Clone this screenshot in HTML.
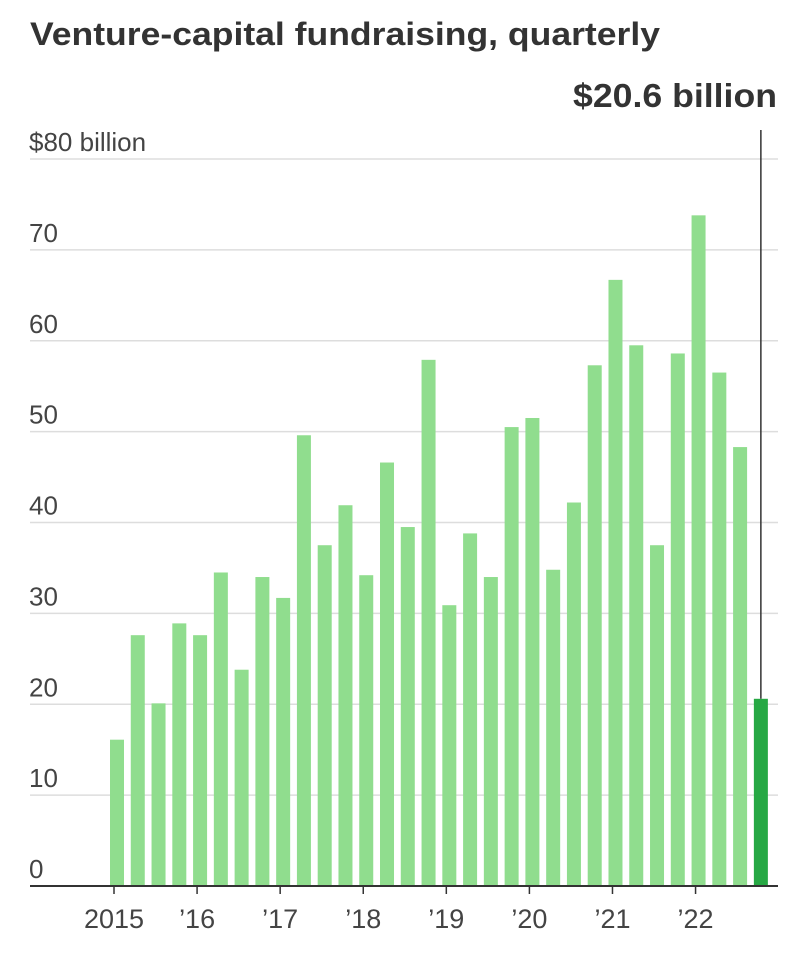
<!DOCTYPE html>
<html><head><meta charset="utf-8"><style>
body{margin:0;background:#fff;width:789px;height:959px;overflow:hidden;font-family:"Liberation Sans",sans-serif;}
</style></head><body>
<svg id="chart" width="789" height="959" viewBox="0 0 789 959" xmlns="http://www.w3.org/2000/svg">
<text x="30" y="45" font-family="Liberation Sans, sans-serif" font-weight="bold" font-size="32" fill="#333" textLength="630" lengthAdjust="spacingAndGlyphs">Venture-capital fundraising, quarterly</text>
<g id="grid"></g><g id="bars"></g><g id="xaxis"></g>
</svg>
<script>
const values=[16.1,27.6,20.1,28.9,27.6,34.5,23.8,34.0,31.7,49.6,37.5,41.9,34.2,46.6,39.5,57.9,30.9,38.8,34.0,50.5,51.5,34.8,42.2,57.3,66.7,59.5,37.5,58.6,73.8,56.5,48.3,20.6];
const yTicks=[0,10,20,30,40,50,60,70,80];
const yTickLabels=["0","10","20","30","40","50","60","70","$80 billion"];
const xLabels=["2015","’16","’17","’18","’19","’20","’21","’22"];
const annotation="$20.6 billion";
const NS="http://www.w3.org/2000/svg";
const y0=886,yScale=(727/80);
const y=v=>y0-v*yScale;
const x=i=>117+i*20.77;
function mk(tag,attrs,parent,txt){const e=document.createElementNS(NS,tag);for(const k in attrs)e.setAttribute(k,attrs[k]);if(txt!==undefined)e.textContent=txt;parent.appendChild(e);return e;}
const grid=document.getElementById('grid'),bars=document.getElementById('bars'),xa=document.getElementById('xaxis'),svg=document.getElementById('chart');
yTicks.forEach((t,i)=>{
 if(t>0){const l=mk('line',{x1:30,x2:778,y1:y(t),y2:y(t),stroke:'#ddd','stroke-width':1.5},grid);
 
 }
 const tx=mk('text',{x:29,y:y(t)-8,'font-size':26,fill:'#444'},grid,yTickLabels[i]);
 
 
});
values.forEach((v,i)=>{
 const last=i===values.length-1;
 const r=mk('rect',{x:x(i)-7,y:y(v),width:14,height:y0-y(v),fill:last?'#27a844':'#90dd8e'},bars);
 
 
});
const ax=mk('line',{x1:30,x2:778,y1:y0,y2:y0,stroke:'#333','stroke-width':2},xa);


xLabels.forEach((lab,j)=>{
 const xi=x(j*4)-3;
 const tk=mk('line',{x1:xi,x2:xi,y1:y0,y2:y0+8,stroke:'#333','stroke-width':1.5},xa);
 
 
 const t=mk('text',{x:xi,y:928,'font-size':27,fill:'#444','text-anchor':'middle'},xa,lab);
 
 
});
const li=values.length-1;
const al=mk('line',{x1:x(li),x2:x(li),y1:130,y2:y(values[li]),stroke:'#333','stroke-width':1.5},svg);


const at=mk('text',{x:573,y:107,'font-size':33,'font-weight':'bold',fill:'#333',textLength:204,lengthAdjust:'spacingAndGlyphs','font-family':'Liberation Sans, sans-serif'},svg,annotation);


</script>
</body></html>
